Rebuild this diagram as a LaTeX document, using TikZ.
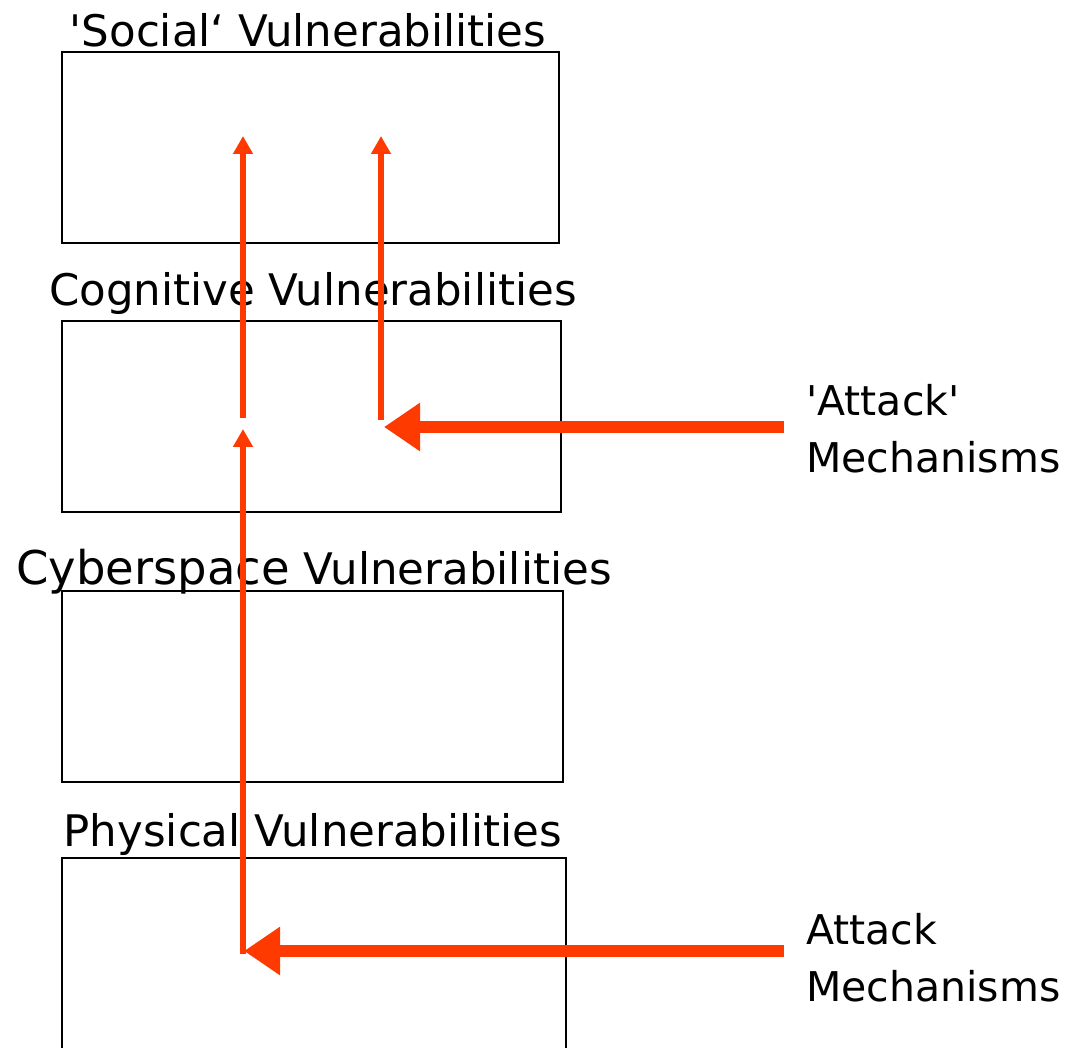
\documentclass[tikz,border=0pt]{standalone}
\usepackage{fontspec}
\setmainfont{DejaVu Sans}
\usetikzlibrary{arrows.meta}
\definecolor{attackred}{HTML}{FF3A00}
\tikzset{
  layerbox/.style={draw=black, line width=2pt, fill=none},
  layertitle/.style={anchor=base, inner sep=0pt, font=\fontsize{43.5}{50}\selectfont},
  sidelabel/.style={anchor=base west, inner sep=0pt, align=left, font=\fontsize{41}{57}\selectfont},
  thinflow/.style={draw=attackred, line width=6pt, -{Triangle[width=19pt,length=18pt]}},
  thickflow/.style={draw=attackred, line width=12pt, -{Triangle[width=46pt,length=36pt]}},
}
\begin{document}
\begin{tikzpicture}[x=1pt,y=-1pt]
\useasboundingbox (0,0) rectangle (1066,1048);
\begin{scope}
\clip (0,0) rectangle (1066,1048);
% the four layers
\draw[layerbox] (62,52) rectangle (559,243);
\draw[layerbox] (62,321) rectangle (561,512);
\draw[layerbox] (62,591) rectangle (563,782);
\draw[layerbox] (62,858) rectangle (566,1070);
\end{scope}

\node[layertitle] (tsocial) at (308,47) {\textquotesingle Social‘ Vulnerabilities};
\node[layertitle] (tcog) at (313,306) {Cognitive Vulnerabilities};
\node[layertitle] (tcyber) at (314,584) {{\fontsize{46.5}{52}\selectfont Cyberspace} Vulnerabilities};
\node[layertitle] (tphys) at (313,846) {Physical Vulnerabilities};

\node[sidelabel] (lattack1) at (806,472) {\textquotesingle Attack\textquotesingle\\Mechanisms};
\node[sidelabel] (lattack2) at (806,1001) {Attack\\Mechanisms};

% end points of the flows
\coordinate (a1tail) at (243,418);
\coordinate (a1tip) at (243,136);
\coordinate (a2tail) at (381,420);
\coordinate (a2tip) at (381,136);
\coordinate (a3tail) at (243,954);
\coordinate (a3tip) at (243,429);
\coordinate (h1tail) at (784,427);
\coordinate (h1tip) at (384,427);
\coordinate (h2tail) at (784,951);
\coordinate (h2tip) at (244,951);

\draw[thinflow] (a1tail) -- (a1tip);
\draw[thinflow] (a2tail) -- (a2tip);
\draw[thinflow] (a3tail) -- (a3tip);
\draw[thickflow] (h1tail) -- (h1tip);
\draw[thickflow] (h2tail) -- (h2tip);
\end{tikzpicture}
\end{document}
